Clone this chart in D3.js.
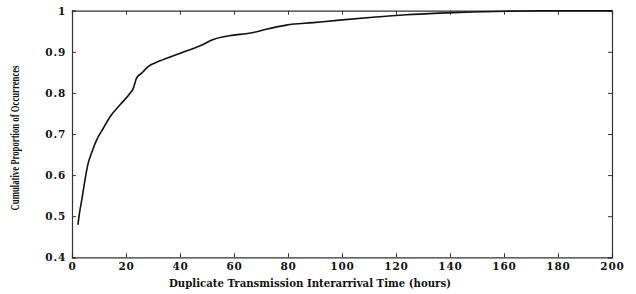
<!DOCTYPE html>
<html>
<head>
<meta charset="utf-8">
<script src="https://cdn.jsdelivr.net/npm/d3@7"></script>
<style>
  body { margin: 0; background: #fff; }
  svg { display: block; }
</style>
</head>
<body>
<svg id="chart" width="636" height="294"></svg>
<script>
// Cumulative distribution
var hours = [2.2, 2.6, 3.6, 4.8, 6.0, 7.3, 9.1, 11.6, 14.1, 17.8, 21.5, 22.7, 23.9, 25.8,
             28.2, 32.6, 39.9, 48.6, 52.3, 57.2, 67.1, 72.0, 79.4, 89.3, 99.1, 111.4,
             123.8, 136.1, 148.4, 163, 173, 200];
var proportion = [0.479, 0.500, 0.539, 0.588, 0.629, 0.655, 0.685, 0.714, 0.742, 0.771,
                  0.799, 0.811, 0.836, 0.848, 0.864, 0.878, 0.896, 0.918, 0.930, 0.938,
                  0.947, 0.955, 0.965, 0.971, 0.977, 0.984, 0.990, 0.994, 0.997, 0.999,
                  1.0, 1.0];
var xTicks = [0, 20, 40, 60, 80, 100, 120, 140, 160, 180, 200];
var yTicks = [0.4, 0.5, 0.6, 0.7, 0.8, 0.9, 1];

// plot box (note: "top" is taken by window.top)
var plotL = 72, plotR = 612, plotT = 10.7, plotB = 257.3;

var svg = d3.select('#chart');

var x = d3.scaleLinear().domain([0, 200]).range([plotL, plotR]);
var y = d3.scaleLinear().domain([0.4, 1]).range([plotB, plotT]);

var tickFmt = function(d) { return d === 1 ? '1' : d3.format('.1f')(d); };

// axes, ticks pointing inward on all four sides
var axisColor = '#333';
svg.append('g')
    .attr('transform', 'translate(0,' + plotB + ')')
    .call(d3.axisBottom(x).tickValues(xTicks).tickSize(-4).tickPadding(5).tickFormat(d3.format('d')));
svg.append('g')
    .attr('transform', 'translate(0,' + plotT + ')')
    .call(d3.axisTop(x).tickValues(xTicks).tickSize(-4).tickFormat(''));
svg.append('g')
    .attr('transform', 'translate(' + plotL + ',0)')
    .call(d3.axisLeft(y).tickValues(yTicks).tickSize(-4).tickPadding(6).tickFormat(tickFmt));
svg.append('g')
    .attr('transform', 'translate(' + plotR + ',0)')
    .call(d3.axisRight(y).tickValues(yTicks).tickSize(-4).tickFormat(''));

svg.selectAll('.domain').attr('stroke', axisColor).attr('stroke-width', 1.2);
svg.selectAll('.tick line').attr('stroke', axisColor).attr('stroke-width', 1);
svg.selectAll('.tick text')
    .attr('fill', '#111')
    .style('font-family', '"DejaVu Serif", serif')
    .style('font-weight', 'bold')
    .style('font-size', '10.5px')
    .style('letter-spacing', '0.8px');

// the curve
var pts = hours.map(function(h, i) { return [h, proportion[i]]; });
svg.append('path')
    .datum(pts)
    .attr('fill', 'none')
    .attr('stroke', '#111')
    .attr('stroke-width', 1.6)
    .attr('d', d3.line().curve(d3.curveMonotoneX)
        .x(function(d) { return x(d[0]); }).y(function(d) { return y(d[1]); }));

// axis titles
svg.append('text')
    .attr('x', 310).attr('y', 287)
    .attr('text-anchor', 'middle')
    .attr('textLength', 282)
    .attr('lengthAdjust', 'spacingAndGlyphs')
    .style('font-family', '"DejaVu Serif", serif')
    .style('font-weight', 'bold')
    .style('font-size', '10.5px')
    .attr('fill', '#111')
    .text('Duplicate Transmission Interarrival Time (hours)');

svg.append('text')
    .attr('transform', 'translate(19,138) rotate(-90)')
    .attr('text-anchor', 'middle')
    .attr('textLength', 145)
    .attr('lengthAdjust', 'spacingAndGlyphs')
    .style('font-family', '"Liberation Serif", serif')
    .style('font-weight', 'bold')
    .style('font-size', '12px')
    .attr('fill', '#111')
    .text('Cumulative Proportion of Occurrences');
</script>
</body>
</html>
